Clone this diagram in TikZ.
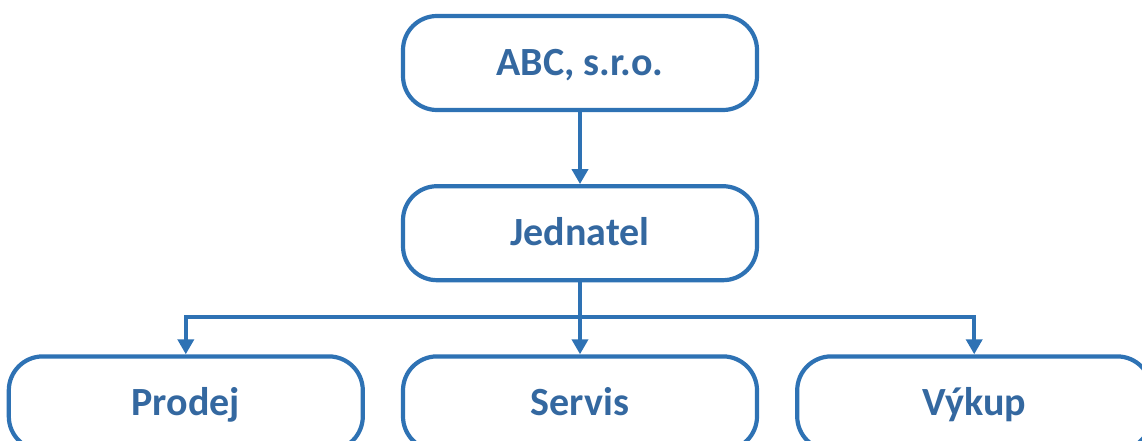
\documentclass[tikz,border=0pt]{standalone}
\usepackage{fontspec}
\setmainfont{Carlito}
\usepackage{tikz}
\usetikzlibrary{positioning}
\usetikzlibrary{arrows.meta}

\definecolor{orgblue}{RGB}{46,114,180}
\definecolor{orgtext}{RGB}{52,104,160}

\tikzset{
  unit/.style={draw=orgblue, line width=4.2pt, rounded corners=34pt,
    minimum width=354pt, minimum height=94pt, fill=white,
    text=orgtext, font=\fontsize{40}{46}\selectfont\bfseries,
    text height=25pt, text depth=0pt},
  link/.style={draw=orgblue, line width=4.2pt},
  tip/.style={link, -{Triangle[width=16pt,length=15pt]}}
}

\begin{document}
\begin{tikzpicture}[x=1pt, y=1pt, node distance=72pt and 36pt]
    \useasboundingbox (0,0) rectangle (1142,440);
    \clip (0,0) rectangle (1142,440);

        % Define nodes
        \node[unit] at (580,377)       (abc)  {ABC, s.r.o.};
        \node[unit, below=of abc]      (jed)  {Jednatel};
        \node[unit, below=of jed]      (serv) {Servis};
        \node[unit, left=of serv]      (prod) {Prodej};
        \node[unit, right=of serv]     (vyk)  {Výkup};
        % Connect the nodes
        \draw[tip] (abc) -- (jed);
        \draw[link] (jed.south) -- ++(0,-35) coordinate (fork);
        \draw[tip] (fork) -| (prod.north);
        \draw[tip] (fork) -- (serv.north);
        \draw[tip] (fork) -| (vyk.north);
      \end{tikzpicture}
\end{document}
